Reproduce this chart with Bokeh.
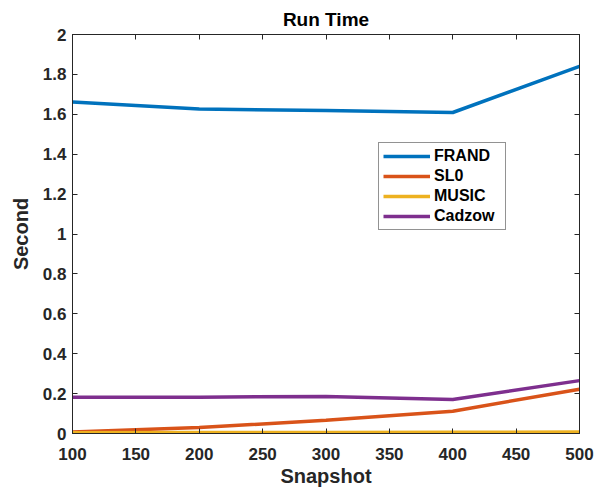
from bokeh.plotting import figure
from bokeh.models import Range1d, LinearAxis, FixedTicker, Legend, LegendItem
from bokeh.embed import file_html
from bokeh.resources import INLINE

snapshot = [100, 200, 300, 400, 500]
frand = [1.662, 1.626, 1.619, 1.609, 1.840]
sl0 = [0.008, 0.030, 0.066, 0.112, 0.222]
music = [0.004, 0.005, 0.005, 0.006, 0.007]
cadzow = [0.182, 0.182, 0.186, 0.170, 0.265]

x_ticks = [100, 150, 200, 250, 300, 350, 400, 450, 500]
y_ticks = [0, 0.2, 0.4, 0.6, 0.8, 1.0, 1.2, 1.4, 1.6, 1.8, 2.0]
y_labels = ["0", "0.2", "0.4", "0.6", "0.8", "1", "1.2", "1.4", "1.6", "1.8", "2"]

series_names = ["FRAND", "SL0", "MUSIC", "Cadzow"]
series_colors = ["#0072BD", "#D95319", "#EDB120", "#7E2F8E"]

FONT = "Liberation Sans"
AX = "#262626"

p = figure(width=595, height=493, output_backend="svg", toolbar_location=None,
           x_range=Range1d(100, 500), y_range=Range1d(0, 2),
           min_border_left=72, min_border_right=16, min_border_top=34, min_border_bottom=60)
p.title.text = "Run Time"
p.title.align = "center"
p.title.text_font = FONT
p.title.text_font_size = "19px"
p.title.text_font_style = "bold"
p.title.text_color = "#000000"
p.title.offset = 0
p.grid.visible = False
p.outline_line_color = AX
p.background_fill_color = "white"
p.border_fill_color = "white"

renderers = []
for vals, c in zip([frand, sl0, music, cadzow], series_colors):
    r = p.line(snapshot, vals, line_color=c, line_width=3.5)
    renderers.append(r)

def style_axis(ax, labels=True):
    ax.axis_line_color = AX
    ax.major_tick_line_color = AX
    ax.major_tick_in = 5
    ax.major_tick_out = 0
    ax.minor_tick_line_color = None
    ax.major_label_text_font = FONT
    ax.major_label_text_font_size = "17px"
    ax.major_label_text_font_style = "bold"
    ax.major_label_text_color = AX
    ax.axis_label_text_font = FONT
    ax.axis_label_text_font_size = "20px"
    ax.axis_label_text_font_style = "bold"
    ax.axis_label_text_color = AX
    if not labels:
        ax.major_label_text_font_size = "0px"
        ax.major_label_text_alpha = 0

xa = p.xaxis[0]
xa.ticker = FixedTicker(ticks=x_ticks)
xa.axis_label = "Snapshot"
style_axis(xa)
xa.major_label_standoff = 14
xa.axis_label_standoff = 2

ya = p.yaxis[0]
ya.ticker = FixedTicker(ticks=y_ticks)
ya.major_label_overrides = {t: l for t, l in zip(y_ticks, y_labels)}
ya.axis_label = "Second"
style_axis(ya)
ya.major_label_standoff = 6
ya.axis_label_standoff = 8

top = LinearAxis(ticker=FixedTicker(ticks=x_ticks))
style_axis(top, labels=False)
p.add_layout(top, "above")
right = LinearAxis(ticker=FixedTicker(ticks=y_ticks))
style_axis(right, labels=False)
p.add_layout(right, "right")

legend = Legend(items=[LegendItem(label=n, renderers=[r]) for n, r in zip(series_names, renderers)],
                location=(306, 203))
legend.label_text_font = FONT
legend.label_text_font_size = "16px"
legend.label_text_font_style = "bold"
legend.label_text_color = "#000000"
legend.glyph_width = 47
legend.glyph_height = 18
legend.label_height = 18
legend.label_width = 67
legend.spacing = 2
legend.padding = 4
legend.margin = 0
legend.label_standoff = 4
legend.border_line_color = AX
legend.background_fill_alpha = 1
p.add_layout(legend, "center")

open("out.html", "w").write(file_html(p, INLINE))
